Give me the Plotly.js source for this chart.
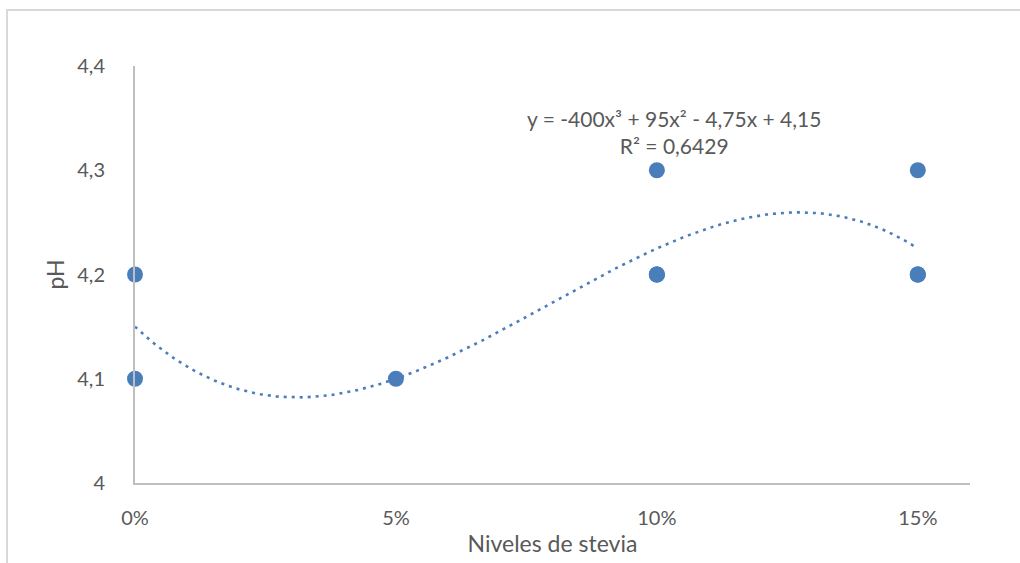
<!DOCTYPE html>
<html>
<head>
<meta charset="utf-8">
<script src="https://cdn.plot.ly/plotly-3.0.1.min.js"></script>
<style>html,body{margin:0;padding:0;background:#fff;}#chart{width:1020px;height:563px;}</style>
</head>
<body>
<div id="chart"></div>
<script>
// Observed data points (stevia level, pH)
var steviaLevels = [0, 0, 0.05, 0.10, 0.10, 0.10, 0.10, 0.15, 0.15, 0.15, 0.15];
var phValues     = [4.2, 4.1, 4.1, 4.3, 4.2, 4.2, 4.2, 4.3, 4.2, 4.2, 4.2];

// Polynomial trendline coefficients shown on the chart: y = c3 x^3 + c2 x^2 + c1 x + c0
var trendCoefs = [-400, 95, -4.75, 4.15];
var trendLabel = "y = -400x³ + 95x² - 4,75x + 4,15<br>R² = 0,6429";

var xTickVals = [0, 0.05, 0.10, 0.15];
var xTickText = ["0%", "5%", "10%", "15%"];
var yTickVals = [4, 4.1, 4.2, 4.3, 4.4];
var yTickText = ["4", "4,1", "4,2", "4,3", "4,4"];

var trendX = [], trendY = [];
for (var i = 0; i <= 150; i++) {
  var x = i / 1000;
  trendX.push(x);
  trendY.push(trendCoefs[0]*x*x*x + trendCoefs[1]*x*x + trendCoefs[2]*x + trendCoefs[3]);
}

var blue = "#4a7ebb";
var txt = "#595959";
var fontFam = "Lato, 'Open Sans', sans-serif";

var data = [
  {x: trendX, y: trendY, type: "scatter", mode: "lines",
   line: {color: blue, width: 2.6, dash: "3px,5px"}, hoverinfo: "skip", showlegend: false, cliponaxis: false},
  {x: steviaLevels, y: phValues, type: "scatter", mode: "markers",
   marker: {color: blue, size: 16}, showlegend: false, cliponaxis: false}
];

var layout = {
  width: 1020, height: 563,
  margin: {l: 135, r: 50, t: 66, b: 80},
  paper_bgcolor: "#fff", plot_bgcolor: "#fff",
  font: {family: fontFam, size: 20, color: txt},
  separators: ",.",
  xaxis: {
    range: [0, 0.16], tickvals: xTickVals, ticktext: xTickText,
    showgrid: false, zeroline: false, showline: true, linecolor: "#bfbfbf", linewidth: 2,
    ticks: "", ticklabelstandoff: 16,
    title: {text: "Niveles de stevia", font: {size: 23, color: txt}, standoff: 8}
  },
  yaxis: {
    range: [4, 4.4], tickvals: yTickVals, ticktext: yTickText,
    showgrid: false, zeroline: false, showline: true, linecolor: "#bfbfbf", linewidth: 2,
    ticks: "", ticklabelstandoff: 24,
    title: {text: "pH", font: {size: 23, color: txt}, standoff: 6}
  },
  annotations: [{
    xref: "paper", yref: "paper", x: (674-135)/835, y: (483-132)/417,
    xanchor: "center", yanchor: "middle", showarrow: false,
    text: trendLabel, font: {size: 21, color: txt}, align: "center"
  }],
  shapes: [{
    type: "rect", xref: "paper", yref: "paper",
    x0: (7-135)/835, x1: (1030-135)/835, y0: (483-580)/417, y1: (483-10)/417,
    line: {color: "#d9d9d9", width: 2}, layer: "below"
  }]
};

Plotly.newPlot("chart", data, layout, {displayModeBar: false, staticPlot: true});
</script>
</body>
</html>
